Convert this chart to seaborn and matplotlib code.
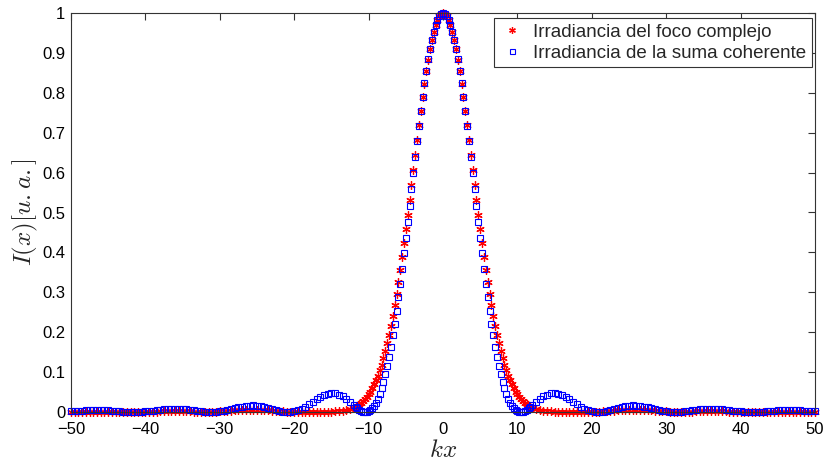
import numpy as np
import pandas as pd
import matplotlib
matplotlib.use("Agg")
import matplotlib.pyplot as plt
import seaborn as sns

# ---------------- data ----------------
kx = np.round(np.concatenate([np.arange(-50, -12, 0.5),
                              np.arange(-12, 12.001, 0.25),
                              np.arange(12.5, 50.001, 0.5)]), 2)

# Irradiancia del foco complejo (red asterisks)
foco = [
    # -50 .. -12.5
    0.0004, 0.0005, 0.0006, 0.0007, 0.0008, 0.0009,
    0.0010, 0.0011, 0.0011, 0.0011, 0.0010, 0.0009, 0.0008, 0.0006, 0.0005, 0.0004,
    0.0003, 0.0003, 0.0003, 0.0004, 0.0006, 0.0008, 0.0010, 0.0012, 0.0015, 0.0017,
    0.0019, 0.0020, 0.0020, 0.0019, 0.0018, 0.0015, 0.0013, 0.0010, 0.0008, 0.0007,
    0.0006, 0.0007, 0.0008, 0.0011, 0.0015, 0.0021, 0.0027, 0.0033, 0.0040, 0.0046,
    0.0052, 0.0056, 0.0058, 0.0058, 0.0056, 0.0053, 0.0048, 0.0042, 0.0035, 0.0028,
    0.0022, 0.0017, 0.0012, 0.0009, 0.0006, 0.0005, 0.0004, 0.0004, 0.0003, 0.0003,
    0.0003, 0.0003, 0.0004, 0.0006, 0.0009, 0.0014, 0.0022, 0.0034, 0.0051, 0.0076,
    # -12 .. -0.25
    0.011, 0.013, 0.016, 0.019, 0.023, 0.027, 0.032, 0.038, 0.044,
    0.051, 0.060, 0.069, 0.080, 0.091, 0.105, 0.119, 0.135, 0.153, 0.172,
    0.194, 0.216, 0.241, 0.267, 0.295, 0.325, 0.356, 0.389, 0.423, 0.458,
    0.494, 0.531, 0.569, 0.607, 0.644, 0.682, 0.719, 0.755, 0.790, 0.823,
    0.854, 0.882, 0.909, 0.932, 0.952, 0.969, 0.983, 0.992, 0.998,
    # 0 .. 12
    1.000, 0.998, 0.992, 0.983, 0.969, 0.952, 0.932, 0.909, 0.882, 0.854,
    0.823, 0.790, 0.755, 0.719, 0.682, 0.644, 0.607, 0.569, 0.531, 0.494,
    0.458, 0.423, 0.389, 0.356, 0.325, 0.295, 0.267, 0.241, 0.216, 0.194,
    0.172, 0.153, 0.135, 0.119, 0.105, 0.091, 0.080, 0.069, 0.060, 0.051,
    0.044, 0.038, 0.032, 0.027, 0.023, 0.019, 0.016, 0.013, 0.011,
    # 12.5 .. 50
    0.0076, 0.0051, 0.0034, 0.0022, 0.0014, 0.0009, 0.0006, 0.0004, 0.0003, 0.0003,
    0.0003, 0.0003, 0.0004, 0.0004, 0.0005, 0.0006, 0.0009, 0.0012, 0.0017, 0.0022,
    0.0028, 0.0035, 0.0042, 0.0048, 0.0053, 0.0056, 0.0058, 0.0058, 0.0056, 0.0052,
    0.0046, 0.0040, 0.0033, 0.0027, 0.0021, 0.0015, 0.0011, 0.0008, 0.0007, 0.0006,
    0.0007, 0.0008, 0.0010, 0.0013, 0.0015, 0.0018, 0.0019, 0.0020, 0.0020, 0.0019,
    0.0017, 0.0015, 0.0012, 0.0010, 0.0008, 0.0006, 0.0004, 0.0003, 0.0003, 0.0003,
    0.0004, 0.0005, 0.0006, 0.0008, 0.0009, 0.0010, 0.0011, 0.0011, 0.0011, 0.0010,
    0.0009, 0.0008, 0.0007, 0.0006, 0.0005, 0.0004,
]

# Irradiancia de la suma coherente (blue squares)
suma = [
    # -50 .. -12.5
    0.0014, 0.0021, 0.0028, 0.0035, 0.0042, 0.0046,
    0.0049, 0.0050, 0.0049, 0.0045, 0.0040, 0.0033, 0.0025, 0.0017, 0.0010, 0.0004,
    0.0001, 0.0000, 0.0002, 0.0007, 0.0015, 0.0025, 0.0036, 0.0048, 0.0060, 0.0070,
    0.0077, 0.0082, 0.0083, 0.0081, 0.0074, 0.0065, 0.0053, 0.0040, 0.0027, 0.0015,
    0.0006, 0.0001, 0.0000, 0.0005, 0.0015, 0.0030, 0.0050, 0.0072, 0.0095, 0.0117,
    0.0137, 0.0153, 0.0162, 0.0165, 0.0160, 0.0148, 0.0129, 0.0105, 0.0079, 0.0052,
    0.0029, 0.0010, 0.0001, 0.0002, 0.0016, 0.0042, 0.0081, 0.0131, 0.0189, 0.0252,
    0.0315, 0.0374, 0.0422, 0.0456, 0.0471, 0.0466, 0.0438, 0.0390, 0.0324, 0.0246,
    # -12 .. -0.25
    0.0164, 0.0125, 0.0088, 0.0056, 0.0030, 0.0010, 0.0001, 0.0002, 0.0020,
    0.004, 0.009, 0.015, 0.023, 0.033, 0.045, 0.059, 0.075, 0.094, 0.115,
    0.138, 0.164, 0.192, 0.221, 0.253, 0.287, 0.322, 0.359, 0.398, 0.437,
    0.477, 0.517, 0.558, 0.599, 0.639, 0.679, 0.717, 0.755, 0.790, 0.824,
    0.855, 0.884, 0.910, 0.933, 0.953, 0.970, 0.983, 0.992, 0.998,
    # 0 .. 12
    1.000, 0.998, 0.992, 0.983, 0.970, 0.953, 0.933, 0.910, 0.884, 0.855,
    0.824, 0.790, 0.755, 0.717, 0.679, 0.639, 0.599, 0.558, 0.517, 0.477,
    0.437, 0.398, 0.359, 0.322, 0.287, 0.253, 0.221, 0.192, 0.164, 0.138,
    0.115, 0.094, 0.075, 0.059, 0.045, 0.033, 0.023, 0.015, 0.009, 0.004,
    0.0020, 0.0002, 0.0001, 0.0010, 0.0030, 0.0056, 0.0088, 0.0125, 0.0164,
    # 12.5 .. 50
    0.0246, 0.0324, 0.0390, 0.0438, 0.0466, 0.0471, 0.0456, 0.0422, 0.0374, 0.0315,
    0.0252, 0.0189, 0.0131, 0.0081, 0.0042, 0.0016, 0.0002, 0.0001, 0.0010, 0.0029,
    0.0052, 0.0079, 0.0105, 0.0129, 0.0148, 0.0160, 0.0165, 0.0162, 0.0153, 0.0137,
    0.0117, 0.0095, 0.0072, 0.0050, 0.0030, 0.0015, 0.0005, 0.0000, 0.0001, 0.0006,
    0.0015, 0.0027, 0.0040, 0.0053, 0.0065, 0.0074, 0.0081, 0.0083, 0.0082, 0.0077,
    0.0070, 0.0060, 0.0048, 0.0036, 0.0025, 0.0015, 0.0007, 0.0002, 0.0000, 0.0001,
    0.0004, 0.0010, 0.0017, 0.0025, 0.0033, 0.0040, 0.0045, 0.0049, 0.0050, 0.0049,
    0.0046, 0.0042, 0.0035, 0.0028, 0.0021, 0.0014,
]

x_ticks = [-50, -40, -30, -20, -10, 0, 10, 20, 30, 40, 50]
y_ticks = [0, 0.1, 0.2, 0.3, 0.4, 0.5, 0.6, 0.7, 0.8, 0.9, 1.0]
y_tick_labels = ["0", "0.1", "0.2", "0.3", "0.4", "0.5", "0.6", "0.7", "0.8", "0.9", "1"]
label_foco = "Irradiancia del foco complejo"
label_suma = "Irradiancia de la suma coherente"

# ---------------- style ----------------
sns.set_style("white")
plt.rcParams["font.family"] = ["Liberation Sans", "DejaVu Sans"]
plt.rcParams["mathtext.fontset"] = "cm"

df = pd.DataFrame({"kx": kx, "foco": foco, "suma": suma})

fig = plt.figure(figsize=(8.25, 4.61), dpi=100)
ax = fig.add_axes([71 / 825, 49 / 461, 744 / 825, 399 / 461])

sns.lineplot(data=df, x="kx", y="foco", ax=ax, estimator=None, errorbar=None,
             linestyle="none", marker=(6, 2, 0), markersize=6,
             color="red", markeredgecolor="red", markeredgewidth=0.9,
             clip_on=False, label=label_foco)
sns.lineplot(data=df, x="kx", y="suma", ax=ax, estimator=None, errorbar=None,
             linestyle="none", marker="s", markersize=4.5,
             color="blue", markeredgecolor="blue", markerfacecolor="none",
             markeredgewidth=0.8, clip_on=False, label=label_suma)

ax.set_xlim(-50, 50)
ax.set_ylim(0, 1)
ax.set_xticks(x_ticks)
ax.set_yticks(y_ticks)
ax.set_yticklabels(y_tick_labels)
ax.tick_params(direction="in", top=True, right=True, length=5, width=0.8,
               labelsize=12, pad=4, colors="#333333", labelcolor="black")
ax.tick_params(axis="x", pad=7)
for s in ax.spines.values():
    s.set_color("#333333")
    s.set_linewidth(0.8)

ax.set_xlabel(r"$kx$", fontsize=18, labelpad=1)
ax.set_ylabel(r"$I(x)[u{.}a{.}]$", fontsize=18, labelpad=2)

leg = ax.legend(loc="upper right", bbox_to_anchor=(0.996, 0.987), borderaxespad=0,
                fancybox=False, edgecolor="#333333", framealpha=1, fontsize=13.5,
                handlelength=1.3, handletextpad=0.5, borderpad=0.3, labelspacing=0.2,
                markerscale=0.8)
leg.get_frame().set_linewidth(0.8)

fig.savefig("out.png", dpi=100)
